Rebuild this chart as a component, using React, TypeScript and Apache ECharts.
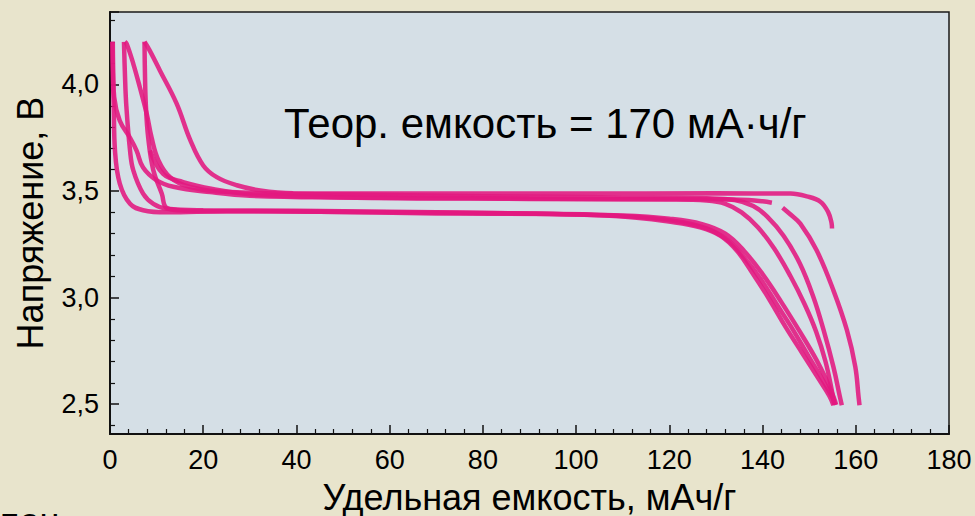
import React, { useEffect, useRef } from "react";
import * as echarts from "echarts";

// Discharge curves (capacity mAh/g, voltage V)
const discharge1: number[][] = [
  [0.5, 4.2], [0.6, 4.05], [0.8, 3.9], [1.07, 3.69], [2.1, 3.535], [4.3, 3.44], [7.1, 3.41], [12.2, 3.4],
  [25, 3.405], [45, 3.403], [70, 3.395], [95, 3.392], [105, 3.386], [113, 3.375], [119.5, 3.358], [126.6, 3.33],
  [131, 3.29], [134.5, 3.22], [138, 3.11], [141.5, 2.99], [145, 2.86], [148.5, 2.74], [152, 2.62], [154.3, 2.54], [155.2, 2.495],
];
const discharge2: number[][] = [
  [3.0, 4.2], [3.2, 4.05], [3.5, 3.9], [4.3, 3.69], [5.0, 3.597], [7.1, 3.488], [9.3, 3.44], [12.2, 3.417],
  [20, 3.41], [40, 3.408], [70, 3.4], [100, 3.39], [112, 3.38], [121, 3.36], [128, 3.325], [132.5, 3.27],
  [136, 3.19], [139.5, 3.09], [143, 2.97], [146.5, 2.85], [150, 2.72], [153, 2.61], [155, 2.53], [155.6, 2.497],
];
const discharge3: number[][] = [
  [7.4, 4.2], [7.5, 4.05], [7.7, 3.9], [8.2, 3.75], [9.3, 3.597], [11.1, 3.488], [12.2, 3.42], [16, 3.408],
  [30, 3.405], [60, 3.4], [90, 3.395], [110, 3.385], [120, 3.37], [127, 3.345], [132, 3.3], [136, 3.22],
  [140, 3.11], [144, 2.98], [148, 2.84], [151.5, 2.71], [154, 2.6], [155.3, 2.53], [155.8, 2.497],
];
const dischargeLate: number[][] = [
  [144.3, 3.422], [146, 3.39], [148.1, 3.347], [151.6, 3.222], [155.2, 3.034], [158.1, 2.847], [159.9, 2.675], [160.6, 2.534], [160.8, 2.495],
];
// Charge curves
const charge1: number[][] = [
  [7.4, 4.2], [8.5, 4.16], [10.7, 4.066], [14.3, 3.91], [17.2, 3.74], [20.0, 3.62], [22.9, 3.565], [27.2, 3.527],
  [32.2, 3.503], [39.3, 3.49], [60, 3.488], [100, 3.488], [130, 3.489], [146, 3.488], [149.5, 3.475], [152.4, 3.45],
  [154.1, 3.4], [154.8, 3.35], [154.9, 3.324],
];
const charge2: number[][] = [
  [3.2, 4.2], [3.6, 4.19], [5.0, 4.097], [6.4, 3.987], [7.9, 3.86], [8.9, 3.753], [10.4, 3.644], [12.9, 3.565],
  [17.2, 3.519], [25.8, 3.495], [47.2, 3.485], [80, 3.476], [110, 3.47], [128, 3.466], [134, 3.458], [138, 3.43],
  [141, 3.38], [144.5, 3.29], [148, 3.16], [150.9, 3.003], [153.1, 2.847], [155.2, 2.675], [156.6, 2.534], [157.0, 2.495],
];
const charge3: number[][] = [
  [0.6, 4.2], [0.7, 4.05], [0.9, 3.94], [2.1, 3.83], [4.3, 3.75], [5.7, 3.69], [7.1, 3.61], [10, 3.55],
  [13.6, 3.52], [21.5, 3.495], [30, 3.478], [50, 3.47], [80, 3.466], [110, 3.463], [130, 3.462], [137, 3.458],
  [140, 3.452], [142, 3.445],
];
const charge4: number[][] = [
  [8.6, 3.69], [11.4, 3.58], [15.7, 3.542], [22, 3.51], [30, 3.485], [50, 3.47], [90, 3.463], [120, 3.46],
  [128, 3.455], [132, 3.44], [135.5, 3.4], [139, 3.33], [142.5, 3.23], [146, 3.1], [149, 2.97], [151.5, 2.84],
  [153.5, 2.7], [154.9, 2.56], [155.4, 2.497],
];

const curves = [discharge1, discharge2, discharge3, dischargeLate, charge1, charge2, charge3, charge4];

const xTicks = [0, 20, 40, 60, 80, 100, 120, 140, 160, 180];
const yTickLabels = [2.5, 3.0, 3.5, 4.0];

const annotation = "Теор. емкость = 170 мА·ч/г";
const xTitle = "Удельная емкость, мАч/г";
const yTitle = "Напряжение, В";
const cutText = "пон";

const PINK = "#e2187f";
const FONT = "Liberation Sans, Arial, sans-serif";

export default function App() {
  const ref = useRef<HTMLDivElement>(null);
  useEffect(() => {
    document.body.style.margin = "0";
    const chart = echarts.init(ref.current!, null, { renderer: "svg" });
    chart.setOption({
      animation: false,
      backgroundColor: "#e8e4cc",
      grid: {
        left: 110, right: 26, top: 12, bottom: 82,
        outerBoundsMode: "none", containLabel: false,
        show: true, backgroundColor: "#d5dfe6", borderColor: "#1a1a1a", borderWidth: 1.5,
      },
      xAxis: {
        type: "value", min: xTicks[0], max: xTicks[xTicks.length - 1], interval: 20,
        axisLine: { show: true, onZero: false, lineStyle: { color: "#111", width: 2 } },
        axisTick: { show: true, inside: true, length: 9, lineStyle: { color: "#111", width: 1.5 } },
        minorTick: { show: true, splitNumber: 5, length: 5, lineStyle: { color: "#111", width: 1.2 } },
        splitLine: { show: false },
        axisLabel: { color: "#000", fontSize: 27, fontFamily: FONT, margin: 12 },
        name: xTitle, nameLocation: "middle", nameGap: 45,
        nameTextStyle: { color: "#000", fontSize: 36, fontFamily: FONT },
      },
      yAxis: {
        type: "value", min: 2.36, max: 4.34, splitNumber: 4,
        axisLine: { show: true, onZero: false, lineStyle: { color: "#111", width: 2 } },
        axisTick: { show: true, inside: true, length: 9, lineStyle: { color: "#111", width: 1.5 } },
        minorTick: { show: true, splitNumber: 5, length: 5, lineStyle: { color: "#111", width: 1.2 } },
        splitLine: { show: false },
        axisLabel: {
          color: "#000", fontSize: 27, fontFamily: FONT, margin: 11, showMinLabel: false, showMaxLabel: false,
          formatter: (v: number) => {
            const m = yTickLabels.find((t) => Math.abs(t - v) < 1e-6);
            return m === undefined ? "" : m.toFixed(1).replace(".", ",");
          },
        },
        name: yTitle, nameLocation: "middle", nameGap: 62, nameRotate: 90,
        nameTextStyle: { color: "#000", fontSize: 36, fontFamily: FONT },
      },
      series: curves.map((c) => ({
        type: "line",
        data: c,
        showSymbol: false,
        smooth: 0.4,
        lineStyle: { color: PINK, width: 4.5, opacity: 0.88 },
        emphasis: { disabled: true },
      })),
      graphic: [
        {
          type: "text", left: 284, top: 102,
          style: { text: annotation, fill: "#000", fontSize: 42, fontFamily: FONT },
        },
        {
          type: "text", left: 0, top: 503,
          style: { text: cutText, fill: "#000", fontSize: 36, fontFamily: FONT },
        },
      ],
    });
    return () => chart.dispose();
  }, []);
  return <div ref={ref} style={{ position: "fixed", left: 0, top: 0, width: 975, height: 516 }} />;
}
